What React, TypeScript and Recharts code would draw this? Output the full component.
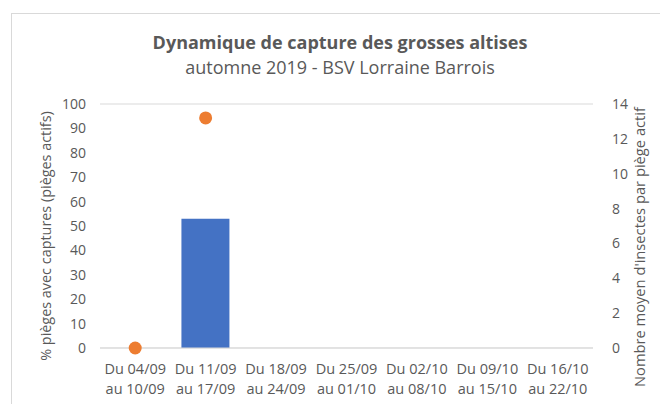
import React from 'react';
import { Bar, CartesianGrid, ComposedChart, Label, Line, XAxis, YAxis } from 'recharts';

const categories = [
  'Du 04/09 au 10/09',
  'Du 11/09 au 17/09',
  'Du 18/09 au 24/09',
  'Du 25/09 au 01/10',
  'Du 02/10 au 08/10',
  'Du 09/10 au 15/10',
  'Du 16/10 au 22/10',
];
const pctPieges: Array<number | null> = [0, 53, null, null, null, null, null];
const moyInsectes: Array<number | null> = [0, 13.2, null, null, null, null, null];
const leftTicks = [0, 10, 20, 30, 40, 50, 60, 70, 80, 90, 100];
const rightTicks = [0, 2, 4, 6, 8, 10, 12, 14];

const data = categories.map((name, i) => ({ name, pct: pctPieges[i], moy: moyInsectes[i] }));

const FONT = '"Open Sans", sans-serif';
const GREY = '#595959';

const TwoLineTick = (props: any) => {
  const { x, y, payload } = props;
  const [a, b] = String(payload.value).split(' au ');
  return (
    <text x={x} y={y} textAnchor="middle" fill={GREY} fontSize={14.5} fontFamily={FONT}>
      <tspan x={x} dy={18}>{a}</tspan>
      <tspan x={x} dy={20}>{'au ' + b}</tspan>
    </text>
  );
};

// rotated axis title, centred at (cx, cy)
const AxisTitle = ({ cx, cy, text, size }: { cx: number; cy: number; text: string; size: number }) => (
  <text
    x={cx}
    y={cy}
    transform={`rotate(-90, ${cx}, ${cy})`}
    textAnchor="middle"
    dominantBaseline="central"
    fill={GREY}
    fontSize={size}
    fontFamily={FONT}
  >
    {text}
  </text>
);

export default function App() {
  return (
    <div style={{ position: 'fixed', left: 0, top: 0, width: 660, height: 404, overflow: 'hidden', background: '#fff' }}>
      <div
        style={{
          position: 'absolute',
          left: 11,
          top: 13,
          width: 700,
          height: 440,
          border: '1px solid #d9d9d9',
        }}
      />
      <div
        style={{
          position: 'absolute',
          left: 0,
          width: 680,
          top: 30,
          textAlign: 'center',
          fontFamily: FONT,
          color: GREY,
          lineHeight: '25px',
        }}
      >
        <div style={{ fontWeight: 700, fontSize: 18 }}>Dynamique de capture des grosses altises</div>
        <div style={{ fontSize: 18 }}>automne 2019 - BSV Lorraine Barrois</div>
      </div>
      <div style={{ position: 'absolute', left: 0, top: 0 }}>
        <ComposedChart
          width={660}
          height={404}
          data={data}
          margin={{ top: 104, right: 0, bottom: 0, left: 0 }}
          barCategoryGap="32%"
        >
          <CartesianGrid vertical={false} stroke="#d9d9d9" />
          <XAxis
            dataKey="name"
            height={56}
            tick={<TwoLineTick />}
            tickLine={false}
            axisLine={{ stroke: '#d9d9d9' }}
            interval={0}
          />
          <YAxis
            yAxisId="left"
            width={100}
            domain={[0, 100]}
            ticks={leftTicks}
            tickLine={false}
            axisLine={false}
            tickSize={0}
            tickMargin={14}
            tick={{ fill: GREY, fontSize: 14, fontFamily: FONT }}
          >
            <Label
              content={({ viewBox }: any) => (
                <AxisTitle
                  cx={viewBox.x + 45}
                  cy={viewBox.y + viewBox.height / 2 + 10}
                  text="% pièges avec captures (pièges actifs)"
                  size={14.4}
                />
              )}
            />
          </YAxis>
          <YAxis
            yAxisId="right"
            orientation="right"
            width={67}
            domain={[0, 14]}
            ticks={rightTicks}
            tickLine={false}
            axisLine={false}
            tickSize={0}
            tickMargin={19}
            tick={{ fill: GREY, fontSize: 14, fontFamily: FONT, textAnchor: 'start' }}
          >
            <Label
              content={({ viewBox }: any) => (
                <AxisTitle
                  cx={viewBox.x + viewBox.width - 21}
                  cy={viewBox.y + viewBox.height / 2 + 21}
                  text="Nombre moyen d'insectes par piège actif"
                  size={14.7}
                />
              )}
            />
          </YAxis>
          <Bar yAxisId="left" dataKey="pct" fill="#4472C4" barSize={48} isAnimationActive={false} />
          <Line
            yAxisId="right"
            dataKey="moy"
            stroke="none"
            dot={{ r: 6.5, fill: '#ED7D31', stroke: 'none' }}
            activeDot={false}
            isAnimationActive={false}
          />
        </ComposedChart>
      </div>
    </div>
  );
}
